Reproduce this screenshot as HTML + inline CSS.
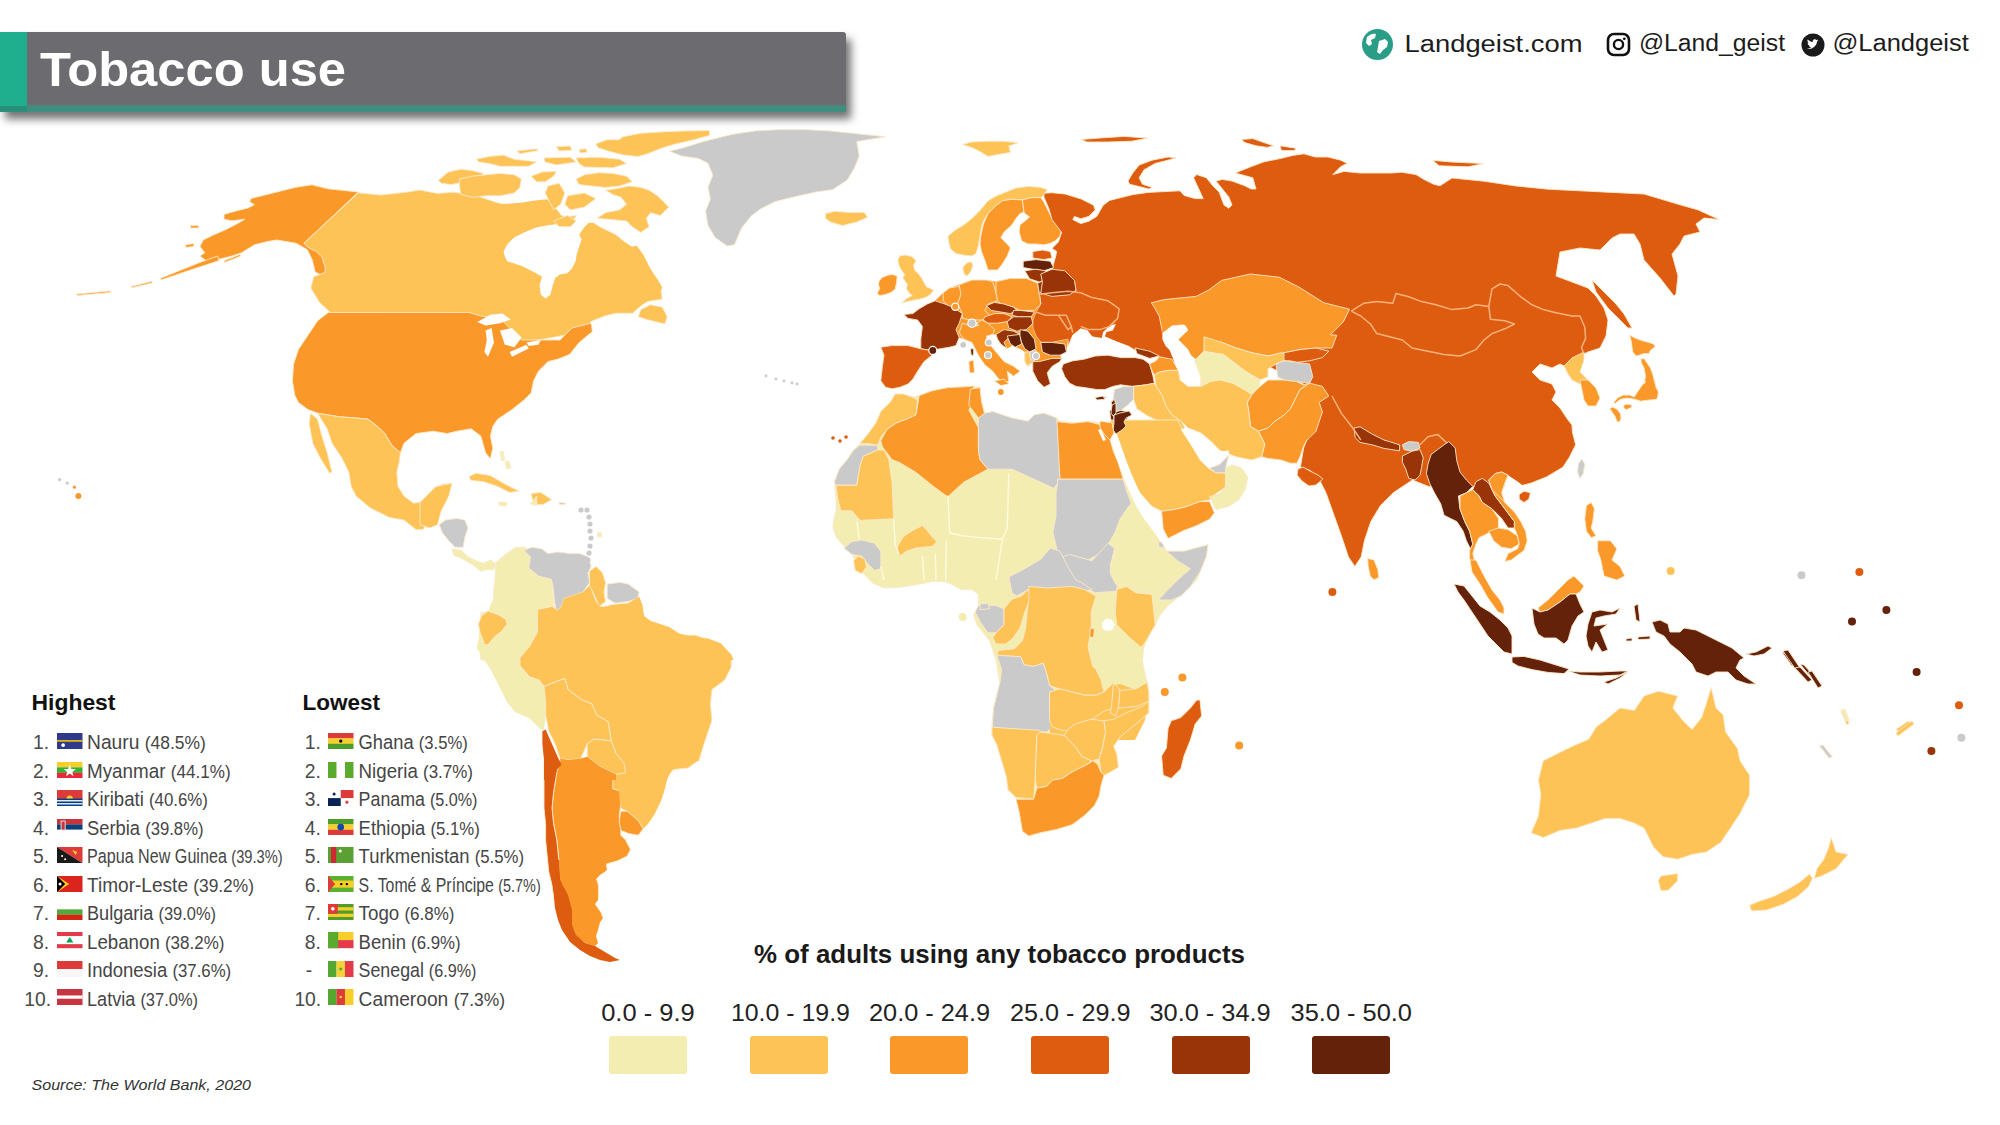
<!DOCTYPE html>
<html><head><meta charset="utf-8">
<style>
html,body{margin:0;padding:0;background:#fff;}
body{width:2000px;height:1125px;position:relative;overflow:hidden;font-family:"Liberation Sans",sans-serif;}
#map{position:absolute;left:0;top:0;}
.P{fill:#f3edb1}.L{fill:#fec357}.O{fill:#fb982a}.D{fill:#dd5c0f}.R{fill:#993408}.B{fill:#65220b}.G{fill:#cacaca}
#map path{stroke:#fce9c9;stroke-width:0.9;stroke-linejoin:round}
#map path.ns{stroke:none}
#map path.W{fill:#fff;stroke:none}
#map .pl{fill:none;stroke:#fffae0;stroke-width:1.4}
#map .bl{fill:none;stroke:#fbb27c;stroke-width:1.5}
.abs{position:absolute;white-space:nowrap;}
#hdr-teal{position:absolute;left:0;top:32px;width:27px;height:80px;background:linear-gradient(#1fae8e 0,#1fae8e 93%,#2a8f7a 93%);}
#hdr-shadow{position:absolute;left:0;top:32px;width:846px;height:80px;box-shadow:5px 7px 8px rgba(0,0,0,0.55);border-top-right-radius:3px;}
#hdr-bar{position:absolute;left:26px;top:32px;width:820px;height:73px;background:#6b6b70;border-top-right-radius:3px;}
#hdr-strip{position:absolute;left:26px;top:103px;width:820px;height:9px;background:linear-gradient(#6e6370 0,#5d7a78 25%,#3e8f7f 45%,#3e8f7f 100%);}
#title{position:absolute;left:40px;top:40px;font-weight:bold;font-size:48px;color:#fff;line-height:56px;letter-spacing:0px;}
.soc{position:absolute;font-size:25px;color:#1e1e1e;line-height:30px;}
.lt{position:absolute;font-weight:bold;font-size:21px;color:#111;line-height:24px;}
.li{position:absolute;font-size:19px;color:#3a3a3a;line-height:22px;}
.li .n{position:absolute;}
.li svg{position:absolute;}
.li .t{position:absolute;}
.li .p{font-size:16.5px;}
#legtitle{position:absolute;left:754px;top:940px;font-weight:bold;font-size:25px;color:#1a1a1a;line-height:28px;}
.lgl{position:absolute;font-size:24px;color:#222;line-height:28px;top:998px;width:160px;text-align:center;}
.lgb{position:absolute;top:1036px;width:78px;height:38px;border-radius:3px;}
#src{position:absolute;left:31px;top:1075px;font-style:italic;font-size:15px;color:#333;line-height:18px;}
</style></head><body>
<svg id="map" width="2000" height="1125" viewBox="0 0 2000 1125">
<path class="O" d="M251.2,198.4 264,195.2 280,191.2 296,187.2 312,184.8 328,188.8 358.4,192 304,243.2 312,246.4 320,251.2 324.8,259.2 326.4,272 321.6,275.2 315.2,272 312,259.2 307.2,249.6 296,243.2 286.4,241.6 276.8,240 267.2,241.6 254.4,244.8 241.6,252.8 232,256 219.2,259.2 208,262.4 200,256 204.8,252.8 200,246.4 203.2,240 212.8,235.2 224,230.4 236.8,224 244.8,219.2 232,220.8 224,219.2 224,214.4 235.2,211.2 248,208 254.4,204.8 249.6,201.6Z"/>
<path class="O" d="M217.6,256 200,262.4 184,268.8 168,275.2 160,278.4 161.6,279.7 176,274.9 192,269.4 208,264.3 219.2,260.5Z"/>
<path class="O" d="M224,260.8 240,254.4 240.8,256 224.8,262.4Z"/>
<path class="O" d="M131.2,286.4 152,281.3 152.3,282.9 131.5,287.7Z"/>
<path class="O" d="M76.8,294.1 110.4,290.9 110.7,292.5 77.1,295.4Z"/>
<path class="O" d="M185.6,244.8 193.6,243.5 193.9,246.4 185.9,247.4Z"/>
<path class="O" d="M190.4,225.6 198.4,225.6 198.7,228 190.7,228Z"/>
<path class="L" d="M358.4,192.8 380.8,195 406,192.2 420,190 436.8,193.4 453.6,192.2 476,195.6 492.8,201.2 509.6,206.8 526.4,204 540.4,206.8 554.4,213.8 565.6,216.6 582.4,215.2 599.2,226.4 616,234.8 632.8,248.8 641.2,265.6 649.6,282.4 660.8,288 662.2,299.2 644,302 632.8,313.2 616,313.2 604.8,316 590.8,321.6 588,332.8 576.8,332.8 562.8,335.6 532,341.2 512.4,352.4 504,335.6 490,332.8 481.6,318.8 470.4,313.2 330.4,312.6 319.2,302 310.8,288 313.6,276.8 324.8,272.6 325.4,268.4 322,257.2 316.4,251.6 308,247.4 303.8,243.2Z"/>
<path class="L ns" d="M420,192 434.4,193.2 451.2,199.2 468,201.6 487.2,202.8 504,204 520.8,202.8 535.2,200.4 547.2,199.2 554.4,206.4 561.6,216 568.8,223.2 578.4,225.6 588,230.4 597.6,232.8 607.2,232.8 619.2,244.8 628.8,240 636,244.8 643.2,254.4 650.4,268.8 660,283.2 662.4,288 655.2,297.6 645.6,302.4 636,309.6 626.4,312 607.2,312 588,316.8 564,312 516,288 420,288Z"/>
<path class="L" d="M640.8,309.6 650.4,304.8 662.4,307.2 667.2,316.8 664.8,324 655.2,321.6 645.6,319.2 638.4,316.8Z"/>
<path class="W" d="M503.6,251.6 507.2,244.4 514.4,237.2 524,232.4 536,227.6 548,225.2 557.6,224 566,222.8 572,220.4 576.8,215.6 584,218 588.8,222.8 584,227.6 579.2,234.8 581.6,239.6 579.2,246.8 576.8,254 575.6,261.2 572,268.4 567.2,273.2 560,274.4 555.2,278 552.8,285.2 550.4,294.8 545.6,298.4 540.8,294.8 539.6,285.2 542,276.8 536,273.2 528.8,269.6 521.6,266 514.4,263.6 507.2,261.2 504.8,256.4Z"/>
<path class="W" d="M576.8,215.6 584,208.4 596,204.8 614,200 626,206 632,215.6 638,225.2 644,232.4 646.4,237.2 641.6,244.4 632,246.8 624.8,242 620,232.4 610.4,226.4 596,222.8 586.4,222.8Z"/>
<path class="L" d="M622.4,136.9 640.7,133.3 661.7,131.9 682.8,131 709.5,130.5 709.5,135.4 694,139.7 675.8,143.9 661.7,148.1 647.7,153.7 637.9,156.5 623.8,155.1 612.6,152.3 598.5,148.1 595.7,143.9 607,139.7 619.6,139.7Z"/>
<path class="L" d="M476.3,159.3 489,156.5 503,155.1 514.3,159.3 528.3,160.7 536.7,162.1 528.3,166.3 514.3,166.3 500.2,166.3 489,163.5 479.2,162.1Z"/>
<path class="L" d="M517.1,150.9 536.7,148.8 538.1,150.6 519.9,153.7Z"/>
<path class="L" d="M556.4,146.7 570.4,146 571.8,150.2 559.2,150.9Z"/>
<path class="L" d="M578.9,149.5 585.9,148.8 587.3,152.3 580.3,153Z"/>
<path class="L" d="M543.8,157.9 570.4,157.2 576.1,162.1 556.4,164.9 545.2,162.1Z"/>
<path class="L" d="M576.1,157.9 598.5,157.2 619.6,159.3 626.6,163.5 612.6,167.8 584.5,167 578.9,163.5Z"/>
<path class="L" d="M438.4,180.4 448.3,172 460.9,169.2 472.1,170.6 483.4,173.4 479.2,179 465.1,181.8 451.1,184.6 441.2,183.2Z"/>
<path class="L" d="M459.5,179 472.1,176.2 486.2,174.8 500.2,173.4 514.3,174.8 521.3,179 519.9,187.4 514.3,193 500.2,195.8 486.2,195.8 472.1,197.2 460.9,194.4 459.5,186Z"/>
<path class="L" d="M531.1,176.2 542.4,172 556.4,171.3 553.6,176.2 545.2,181.8 536.7,181.8Z"/>
<path class="L" d="M548,186 559.2,183.2 564.8,193 560.6,204.3 553.6,209.9 549.4,201.5 545.2,193Z"/>
<path class="L" d="M576.1,179 584.5,174.8 598.5,172.7 612.6,173.4 626.6,176.2 632.2,181.8 619.6,186 605.6,187.4 591.5,186 578.9,184.6Z"/>
<path class="L" d="M605.6,190.2 615.4,188.8 629.4,186 640.7,187.4 649.1,190.2 657.5,195.8 668.8,207.1 660.3,215.5 650.5,212.7 646.3,218.3 649.1,226.7 640.7,232.4 632.2,226.7 626.6,221.1 612.6,219.7 597.1,218.3 605.6,212.7 619.6,209.9 626.6,204.3 621,197.2 612.6,194.4Z"/>
<path class="L" d="M567.6,195.8 584.5,193 595.7,198.6 584.5,207.1 570.4,209.9 564.8,204.3Z"/>
<path class="L" d="M553.6,221.1 567.6,215.5 576.1,221.1 570.4,226.7 559.2,226.7Z"/>
<path class="G" d="M669.6,151.2 684,147.6 703.2,141.6 722.4,136.8 732,134.4 756,130.8 780,129.6 804,129.6 828,130.8 852,133.2 885.6,136.8 856.8,141.6 859.2,156 854.4,168 847.2,180 832.8,189.6 816,192 794.4,196.8 775.2,201.6 760.8,208.8 751.2,216 741.6,228 734.4,244.8 727.2,246 715.2,237.6 708,225.6 705.6,211.2 710.4,199.2 708,187.2 712.8,175.2 708,163.2 698.4,158.4 681.6,156Z"/>
<path class="L" d="M825.6,213.6 835.2,211.2 847.2,212.4 864,212.4 867.6,217.2 856.8,222 842.4,225.6 830.4,222 825.6,218.4Z"/>
<path class="O" d="M328.4,312.4 468.8,312.4 480.8,316 500,318.4 512,330.4 521.6,340 540.8,340 560,340 572,328 591.2,323.2 592.4,331.6 579.2,342.4 569.6,354.4 557.6,359.2 548,361.6 538.4,371.2 533.6,380.8 531.2,392.8 524,400 512,409.6 497.6,419.2 492.8,426.4 490.4,436 492.8,448 490.4,458.8 485.6,452.8 480.8,436 471.2,428.8 456.8,431.2 447.2,433.6 432.8,431.2 416,433.6 404,443.2 400.4,452.8 392,445.6 384.8,433.6 377.6,426.4 368,419.2 356,418 339.2,416.8 317.6,413.2 308,409.6 298.4,402.4 294.8,395.2 292.4,380.8 293.6,364 298.4,349.6 308,335.2 317.6,320.8Z"/>
<path class="W" d="M477.2,322 490.4,314.8 502.4,313.6 510.8,319.6 500,323.2 485.6,325.6Z"/>
<path class="W" d="M485.6,330.4 491.6,328 494,342.4 488,356.8 484.4,352 486.8,340Z"/>
<path class="W" d="M500,330.4 512,328 521.6,337.6 514.4,347.2 504.8,344.8Z"/>
<path class="W" d="M509.6,352 526.4,344.8 528.8,348.4 512,356.8Z"/>
<path class="W" d="M526.4,342.4 540.8,340 538.4,344.8 528.8,346Z"/>
<path class="L" d="M317.6,413.2 339.2,416.8 356,418 368,419.2 377.6,426.4 384.8,433.6 392,445.6 400.4,452.8 399.2,462.4 396.8,472 398,486.4 404,496 413.6,503.2 428,500.8 435.2,491.2 442.4,484 452,484 447.2,496 442.4,505.6 435.2,510.4 428,520 423.2,529.6 416,529.6 404,520 389.6,517.6 370.4,508 356,496 351.2,486.4 348.8,472 341.6,457.6 332,443.2 327.2,428.8Z"/>
<path class="L" d="M310.4,413.2 317.6,419.2 321.2,433.6 327.2,452.8 332,472 329.6,473.2 320,457.6 312.8,443.2 309.2,424Z"/>
<path class="L" d="M468.8,476.8 476,473.2 490.4,475.6 504.8,484 519.2,491.2 509.6,492.4 497.6,486.4 483.2,481.6 471.2,480.4Z"/>
<path class="L" d="M531.2,493.6 540.8,492.4 551.6,499.6 543.2,504.4 533.6,504.4Z"/>
<path class="P" d="M498.8,502 507.2,502.7 506,506.1 499.5,505.6Z"/>
<path class="L" d="M962.4,144.4 972,142 988,141.2 1004,141.2 1018.4,142.8 1008.8,146 1010.4,152.4 1000.8,154 988,156.4 981.6,152.4 972,147.6Z"/>
<path class="L" d="M948,236 956,229.6 964,224.8 972,218.4 980,210.4 988,200.8 996,196 1004,192.8 1016,188 1028,186.4 1040,187.2 1047.2,189.6 1044,195.2 1040.8,197.6 1032,197.6 1028,198.4 1022.4,200 1012,199.2 1002.4,200.8 996,205.6 988,213.6 983.2,221.6 981.6,226.4 980,236 978.4,245.6 976,253.6 972,256 964,255.2 956,253.6 950.4,248.8 948.8,242.4Z"/>
<path class="O" d="M983.2,224.8 988,213.6 996,205.6 1002.4,200.8 1012,199.2 1022.4,200 1024,212 1020,213.6 1016,218.4 1012,224.8 1004,232 1000.8,237.6 1007.2,244 1010.4,248 1007.2,256 1002.4,264 997.6,270 988,270 984.8,260 981.6,252 980,244 980.8,236Z"/>
<path class="O" d="M1022.4,200 1028,198.4 1032,197.6 1040.8,197.6 1044,202.4 1048,210.4 1052,218.4 1058.4,226.4 1061.6,229.6 1060,236 1055.2,240.8 1050.4,243.2 1044,244.8 1036,244 1028,244 1021.6,240.8 1019.2,232 1020,224.8 1026.4,220 1029.6,216.8 1024.8,213.6 1024,212Z"/>
<path class="L" d="M963.1,267.2 966.7,263 971.5,261.8 972.8,265.4 971.5,270.2 969.1,273.8 966.7,276.3 964.3,273.8 963.1,270.2Z"/>
<path class="D" d="M1044,193.2 1052,192.7 1064.8,194 1080.8,198.8 1093.6,205.2 1095.2,210 1088.8,216.4 1080.8,218.8 1074.4,216.4 1072.8,219.6 1080.8,223.6 1088.8,221.2 1096.8,216.4 1103.2,205.2 1109.6,200.4 1122.4,197.2 1132,194.8 1148,192.4 1164,191.6 1180,190.8 1184,195.4 1195.2,198.6 1203.2,198.6 1193.6,177.8 1196.8,174.6 1206.4,177.8 1212.8,185.8 1219.2,192.2 1224,205 1228.8,208.2 1232,205 1228.8,197 1222.4,189 1216,181 1222.4,179.4 1232,181 1244.8,185.8 1251.2,189 1256,189 1252.8,177.8 1235.2,173 1251.2,166.6 1264,161.8 1280,158.6 1292.8,155.4 1304,153.8 1315.2,157 1328,157 1340.8,160.2 1347.2,163.4 1340.8,166.6 1332.8,174.6 1344,171.4 1360,173 1376,173 1392,173 1401.6,172.2 1416,174.6 1424,179.4 1433.6,184.2 1440,185.8 1452,178 1484,181.2 1516,186 1548,189.2 1580,190.8 1612,192.4 1644,194 1676,203.6 1698.4,210 1719.2,219.6 1704,218 1696,224 1700,232 1684,236 1680,244 1672,254 1678,276 1676,294 1674,296 1660,278 1644,260 1640,244 1634,234 1620,234 1612,238 1600,250 1580,248 1560,252 1556,276 1572,282 1588,288 1596,296 1604,308 1608,320 1606,336 1600,348 1588,352 1580,356 1572,358 1564,366 1560,364 1552,368 1540,364 1532,372 1540,380 1552,384 1556,392 1552,400 1560,408 1568,420 1572,425 1572.4,432 1575.6,444.8 1569.2,457.6 1562.8,467.2 1546.8,476.8 1530.8,483.2 1518,486.4 1508.4,486.4 1470,486.4 1438,486.4 1428.4,486.4 1412.4,480 1393.2,492.8 1380.4,505.6 1370.8,521.6 1364.4,540.8 1361.2,556.8 1354.8,566.4 1348.4,556.8 1342,537.6 1334,515.2 1326,492.8 1319.6,480 1310,470.4 1300.4,467.2 1303.6,448 1316.4,416 1303.6,384 1271.6,368 1214,358.4 1182,352 1200.8,372 1181.6,368.8 1172,360.8 1156,356 1136.8,351.2 1128.8,346.4 1116,341.6 1104.8,336.8 1101.6,338.4 1092,336.8 1087.2,330.4 1080.8,328.8 1072.8,335.2 1068,346.4 1068,339.2 1052,342.4 1040.8,342.4 1036,336 1032.8,328 1032.8,320 1036,312 1040.8,304 1039.2,292.8 1037.6,283.2 1052,269.2 1055.2,258 1056.8,251.6 1052,248.4 1058.4,242 1061.6,232.4 1052,219.6 1048.8,208.4 1044,197.2Z"/>
<path class="O ns" d="M880.8,347.2 892,345.6 908,345.6 920.8,348.8 920.8,339.2 922.4,326.4 917.6,320 908,318.4 904,314.4 912.8,313.6 919.2,308.8 927.2,304 935.2,300.8 943.2,292.8 949.6,288 959.2,284.8 972,280 986.4,280 996,281.6 1010.4,278.4 1026.4,278.4 1037.6,283.2 1039.2,292.8 1040.8,304 1036,312 1032.8,320 1032.8,328 1036,336 1040.8,342.4 1052,342.4 1068,339.2 1066.4,352 1060,355.2 1061.6,358.4 1052,366.4 1047.2,372.8 1050.4,384 1044,387.2 1037.6,380.8 1032.8,371.2 1032.8,361.6 1028,366.4 1024.8,361.6 1024.8,352 1020,348.8 1012,345.6 1007.2,348.8 1000.8,344 997.6,339.2 996,334.4 992.8,334.4 986.4,336 988,342.4 996,352 1004,361.6 1013.6,366.4 1020,371.2 1013.6,376 1007.2,371.2 1008.8,380.8 1004,384 997.6,377.6 992.8,371.2 984.8,364.8 978.4,355.2 972,342.4 964,339.2 959.2,337.6 956,345.6 949.6,347.2 940,348.8 930.4,350.4 932,355.2 924,361.6 917.6,371.2 912.8,379.2 908,384 900,387.2 892,388.8 885.6,387.2 880.8,380.8 882.4,366.4 884,355.2Z"/>
<path class="O" d="M879.1,281.1 882.1,277.5 888.1,275.1 893,274.5 897.2,276.3 896.6,282.3 895.4,288.4 891.8,292 885.7,294.4 879.7,295.6 877.3,293.2 879.7,288.4 878.5,284.7Z"/>
<path class="L" d="M900.2,255.7 906.3,255.1 912.3,256.9 915.9,260.6 913.5,265.4 914.7,270.2 918.4,273.8 922,278.7 924.4,283.5 926.8,287.1 930.4,288.4 933.5,290.2 930.4,294.4 925.6,297.4 919.6,299.2 912.3,300.4 906.3,301.7 901.4,302.9 907.5,298 912.3,295.6 909.3,293.2 906.3,288.4 907.5,284.7 905.1,281.1 902.6,277.5 905.1,275.1 901.4,270.2 899,265.4 897.8,259.9Z"/>
<path class="O" d="M943.2,292.8 949.6,288 959.2,286.4 962.4,294.4 959.2,304 949.6,307.2 943.2,300.8Z"/>
<path class="O" d="M959.2,284.8 972,280 986.4,280 992.8,281.6 996,292.8 997.6,300.8 988,304 984.8,310.4 991.2,316.8 983.2,320 972,320 962.4,318.4 962.4,313.6 957.6,304 960.8,294.4Z"/>
<path class="O" d="M996,281.6 1010.4,278.4 1026.4,278.4 1037.6,283.2 1039.2,292.8 1040.8,304 1034.4,310.4 1020,310.4 1013.6,307.2 1000.8,304 997.6,300.8 996,292.8Z"/>
<path class="R" d="M1037.6,283.2 1052,276.8 1064.8,276.8 1074.4,281.6 1076,291.2 1068,292.8 1052,292.8 1039.2,292.8Z"/>
<path class="R" d="M986.4,305.6 994.4,302.4 1004,304 1013.6,307.2 1016.8,310.4 1010.4,313.6 1000.8,312 991.2,310.4Z"/>
<path class="R" d="M1013.6,310.4 1020,310.4 1034.4,312 1031.2,316.8 1018.4,316.8 1012,315.2Z"/>
<path class="D" d="M984.8,316.8 994.4,313.6 1004,313.6 1012,316.8 1007.2,321.6 997.6,323.2 988,323.2 983.2,320Z"/>
<path class="R" d="M1007.2,321.6 1013.6,316.8 1031.2,316.8 1032.8,323.2 1026.4,329.6 1016.8,331.2 1008.8,328Z"/>
<path class="R" d="M904,314.4 912.8,313.6 919.2,308.8 927.2,304 935.2,300.8 944.8,304 952.8,307.2 962.4,313.6 959.2,323.2 956,329.6 959.2,337.6 956,345.6 949.6,347.2 940,348.8 930.4,350.4 920.8,348.8 920.8,339.2 922.4,326.4 917.6,320 908,318.4Z"/>
<path class="D" d="M880.8,347.2 892,345.6 908,345.6 920.8,348.8 930.4,350.4 932,355.2 924,361.6 917.6,371.2 912.8,379.2 908,384 900,387.2 892,388.8 885.6,387.2 880.8,380.8 882.4,366.4 884,355.2Z"/>
<path class="O" d="M962.4,323.2 972,326.4 981.6,320 988,323.2 994.4,329.6 992.8,334.4 986.4,336 988,342.4 996,352 1004,361.6 1013.6,366.4 1020,371.2 1013.6,376 1007.2,371.2 1008.8,380.8 1004,384 997.6,377.6 992.8,371.2 984.8,364.8 978.4,355.2 972,342.4 964,339.2 959.2,332.8Z"/>
<path class="O" d="M994.4,380.8 1004,379.2 1008.8,384 1000.8,385.6Z"/>
<path class="O" d="M968.8,361.6 973.6,360 974.4,372.8 969.6,372.8Z"/>
<path class="B" d="M970.4,348.8 973.6,348.8 973.6,355.2 971.2,355.2Z"/>
<path class="R" d="M996,334.4 1004,329.6 1013.6,331.2 1020,334.4 1016.8,339.2 1008.8,337.6 1004,342.4 1007.2,348.8 1000.8,344 997.6,339.2Z"/>
<path class="B" d="M1007.2,336 1020,334.4 1021.6,344 1015.2,347.2 1010.4,344Z"/>
<path class="B" d="M1020,329.6 1028,331.2 1034.4,339.2 1036,348.8 1029.6,352 1024.8,348.8 1021.6,342.4 1020,336Z"/>
<path class="L" d="M1024.8,352 1029.6,352 1031.2,361.6 1028,366.4 1024.8,361.6Z"/>
<path class="G" d="M1029.6,352 1036,350.4 1039.2,356.8 1032.8,361.6 1030.4,358.4Z"/>
<path class="B" d="M1040.8,342.4 1052,342.4 1064.8,344 1066.4,352 1060,355.2 1050.4,355.2 1042.4,352Z"/>
<path class="R" d="M1032.8,361.6 1039.2,361.6 1052,358.4 1061.6,358.4 1060,361.6 1052,366.4 1047.2,372.8 1050.4,384 1044,387.2 1037.6,380.8 1032.8,371.2Z"/>
<path class="G" d="M972,323.2 976.8,322.4 978.4,325.6 972.8,326.4Z"/>
<path class="B" d="M1096.8,398.4 1106.4,396.8 1103.2,400Z"/>
<path class="W" d="M1068,348 1072.8,335.2 1080.8,328.8 1087.2,330.4 1092,336.8 1101.6,338.4 1103.2,332 1109.6,325.6 1116,324 1112.8,330.4 1106.4,332 1104.8,336.8 1116,341.6 1128.8,346.4 1136.8,352.8 1133.6,357.6 1124,359.2 1112.8,357.6 1101.6,356 1092,356 1084,359.2 1076,359.2 1069.6,356Z"/>
<path class="R" d="M1063.2,364 1072.8,360.8 1084,359.2 1095.2,356 1108,355.2 1120.8,357.6 1135.2,357.6 1143.2,359.2 1149.6,364 1152.8,375.2 1154.4,383.2 1146.4,384.8 1132,386.4 1120.8,384.8 1112.8,386.4 1104.8,389.6 1096.8,389.6 1087.2,388 1076,386.4 1069.6,383.2 1064.8,376.8 1061.6,368.8Z"/>
<path class="R" d="M1135.2,348 1149.6,351.2 1159.2,356 1149.6,358.4 1136.8,353.6Z"/>
<path class="O" d="M1149.6,364 1156,360.8 1159.2,356.8 1172,359.2 1178.4,370.4 1168.8,370.4 1159.2,372 1154.4,375.2 1151.2,368.8Z"/>
<path class="W" d="M1162.4,332 1172,325.6 1184.8,324.8 1188,330.4 1181.6,335.2 1175.2,341.6 1181.6,348 1188,354.4 1194.4,360.8 1200.8,367.2 1200.8,376.8 1197.6,386.4 1188,386.4 1180,380 1178.4,370.4 1175.2,364 1172,356 1168.8,348 1164,340Z"/>
<path class="O" d="M1151.2,302.8 1164,299.6 1196,296.4 1208.8,290 1221.6,280.4 1250.4,274 1279.2,277.2 1298.4,286.8 1324,302.8 1349.6,309.2 1343.2,322 1330.4,334.8 1336.8,335.2 1332,348 1316,348 1300,349.6 1284,352.8 1268,356 1252,352.8 1236,348 1220,341.6 1220,332 1204,336.8 1204,351.2 1194.4,360.8 1188,354.4 1181.6,348 1175.2,341.6 1181.6,335.2 1188,330.4 1184.8,324.8 1172,325.6 1162.4,332 1159.2,316 1152.8,304.8Z"/>
<path class="O ns" d="M1162.4,333.2 1172,325.2 1181.6,323.6 1188,326.8 1188,339.6 1191.2,346 1197.6,352.4 1204,349.2 1204,337.2 1220,340.4 1228,343.6 1228,322 1204,317.2 1188,317.2 1172,320.4 1162.4,325.2Z"/>
<path class="W" d="M1162.4,333.2 1172,326.8 1184.8,325.2 1188,330 1181.6,336.4 1178.4,339.6 1188,349.2 1191.2,355.6 1199.2,362 1200.8,371.6 1200.8,386 1191.2,387.6 1181.6,381.2 1178.4,371.6 1178.4,362 1172,352.4 1165.6,346 1162.4,339.6Z"/>
<path class="L" d="M1204,336.8 1220,341.6 1236,348 1252,352.8 1268,356 1280.8,352.8 1290.4,354.4 1284,360.8 1276,364 1268,368.8 1268,376.8 1260,380 1252,375.2 1244,370.4 1236,364 1223.2,354.4 1212,352.8 1204,351.2Z"/>
<path class="P" d="M1194.4,360.8 1204,351.2 1212,352.8 1223.2,354.4 1236,364 1244,370.4 1252,375.2 1260,380 1258.4,389.6 1252,394.4 1244,389.6 1232.8,383.2 1220,380 1210.4,381.6 1200.8,386.4 1200.8,376.8Z"/>
<path class="D" d="M1284,352.8 1300,349.6 1316,348 1328.8,351.2 1322.4,357.6 1309.6,360.8 1296.8,362.4 1290.4,360.8 1284,360.8Z"/>
<path class="G" d="M1276,364 1284,360.8 1296.8,362.4 1309.6,364 1312.8,376.8 1309.6,383.2 1296.8,381.6 1284,380 1277.6,376.8Z"/>
<path class="O" d="M1252,394.4 1260,386.4 1268,380 1277.6,380 1284,380 1296.8,381.6 1303.2,384.8 1309.6,383.2 1300,389.6 1295.2,399.2 1290.4,408.8 1284,415.2 1274.4,421.6 1268,428 1258.4,431.2 1250.4,426.4 1248.8,412 1247.2,402.4Z"/>
<path class="O" d="M1309.6,383.2 1322.4,386.4 1328.8,396 1319.2,402.4 1322.4,412 1319.2,421.6 1316,431.2 1306.4,440.8 1303.2,447.2 1300,456.8 1296.8,463.2 1290.4,463.2 1280.8,460 1268,458.4 1261.6,456.8 1264.8,444 1258.4,431.2 1268,428 1274.4,421.6 1284,415.2 1290.4,408.8 1295.2,399.2 1300,389.6Z"/>
<path class="R" d="M1354,428 1360,426.8 1372,434 1384,440 1399.6,444.8 1399.6,450.8 1384,448.4 1372,444.8 1360,442.4 1355.2,437.6Z"/>
<path class="L" d="M1154.4,375.2 1159.2,372 1168.8,370.4 1178.4,370.4 1180,380 1188,386.4 1197.6,386.4 1200.8,386.4 1210.4,381.6 1220,380 1232.8,383.2 1244,389.6 1252,394.4 1247.2,402.4 1248.8,412 1250.4,426.4 1258.4,431.2 1264.8,444 1261.6,456.8 1252,460 1236,456.8 1220,450.4 1210.4,440.8 1200.8,432.8 1188,428 1181.6,421.6 1172,415.2 1165.6,405.6 1162.4,396 1156,386.4Z"/>
<path class="L" d="M1133.6,386.4 1146.4,384.8 1154.4,383.2 1156,386.4 1162.4,396 1165.6,405.6 1172,415.2 1181.6,421.6 1184.8,428 1178.4,431.2 1172,428 1159.2,421.6 1146.4,415.2 1136.8,408.8 1133.6,399.2Z"/>
<path class="G" d="M1114.4,389.6 1124,386.4 1133.6,386.4 1133.6,399.2 1127.2,405.6 1120.8,410.4 1114.4,412 1112.8,402.4Z"/>
<path class="B" d="M1111.2,402.4 1114.4,399.2 1116,405.6 1112.8,408.8Z"/>
<path class="B" d="M1114.4,412 1120.8,410.4 1130.4,412 1127.2,418.4 1124,421.6 1125.6,428 1116,432.8 1112.8,428Z"/>
<path class="B" d="M1109.6,410.4 1112.8,409.6 1114.4,421.6 1111.2,423.2Z"/>
<path class="B" d="M1095.2,397.6 1103.2,396 1104.8,399.2 1096.8,400Z"/>
<path class="L" d="M1110.4,420 1115.2,442.4 1120,458.4 1129.6,474.4 1139.2,492 1152,506.4 1161.6,511.2 1174.4,509.6 1187.2,506.4 1200,501.6 1209.6,500 1216,493.6 1225.6,487.2 1225.6,472.8 1216,472.8 1208,468 1200,460 1193.6,448.8 1184,432.8 1177.6,420Z"/>
<path class="W" d="M1180.8,429.6 1187.2,428 1196.8,436 1206.4,445.6 1216,452 1228.8,450.4 1228.8,458.4 1224,466.4 1216,468 1209.6,464.8 1201.6,460 1193.6,448.8 1187.2,439.2Z"/>
<path class="G" d="M1209.6,468 1219.2,464.8 1225.6,458.4 1228.8,455.2 1225.6,468 1225.6,472.8 1216,472.8Z"/>
<path class="P" d="M1216,509.6 1209.6,496.8 1219.2,493.6 1225.6,487.2 1225.6,468 1232,464.8 1241.6,468 1248,477.6 1244.8,490.4 1238.4,500 1228.8,506.4Z"/>
<path class="O" d="M1161.6,511.2 1174.4,509.6 1187.2,506.4 1200,501.6 1209.6,501.6 1214.4,512.8 1209.6,519.2 1196.8,525.6 1184,530.4 1168,538.4 1163.2,528.8Z"/>
<path class="O" d="M1059.2,421.6 1072,423.2 1088,421.6 1100.8,424.8 1108.8,429.6 1110.4,440.8 1113.6,452 1118.4,463.2 1123.2,479.2 1062.4,479.2 1062.4,452Z"/>
<circle class="O" cx="955.2" cy="306.8" r="3.6" style="stroke:#fff;stroke-width:1.2"/>
<circle class="G" cx="972" cy="323.2" r="4.2" style="stroke:#fff;stroke-width:1.2"/>
<circle class="B" cx="932.8" cy="350.4" r="4" style="stroke:#fff;stroke-width:1.2"/>
<circle class="G" cx="963.2" cy="344.8" r="3.5" style="stroke:#fff;stroke-width:1.2"/>
<circle class="G" cx="988.8" cy="342.4" r="3.5" style="stroke:#fff;stroke-width:1.2"/>
<circle class="G" cx="988" cy="355.2" r="3.5" style="stroke:#fff;stroke-width:1.2"/>
<circle class="G" cx="1036" cy="356" r="3.5" style="stroke:#fff;stroke-width:1.2"/>
<circle class="O" cx="1000.8" cy="392" r="3.5" style="stroke:#fff;stroke-width:1.2"/>
<path class="D" d="M1032.8,251.6 1042.4,250 1050.4,251.6 1052,258 1044,259.6 1032.8,258Z"/>
<path class="B" d="M1023.2,261.2 1036,259.6 1050.4,261.2 1053.6,267.6 1044,270.8 1032.8,269.2 1023.2,267.6Z"/>
<path class="R" d="M1024.8,270.8 1036,269.2 1045.6,270.8 1047.2,278.8 1039.2,282 1029.6,278.8Z"/>
<path class="R" d="M1040.8,274 1052,269.2 1064.8,270.8 1074.4,280.4 1076,290 1069.6,294.8 1052,296.4 1040.8,293.2 1042.4,282Z"/>
<path class="D" d="M1128,181 1132.8,173 1139.2,165 1152,160.2 1168,157 1176,157.8 1168,160.2 1155.2,163.4 1144,169.8 1139.2,177.8 1142.4,184.2 1152,187.4 1148.8,189 1136,185.8 1129.6,184.2Z"/>
<path class="D" d="M1241.6,139.4 1252.8,138.6 1264,142.6 1273.6,145.8 1267.2,147.4 1256,145.8 1244.8,142.6Z"/>
<path class="D" d="M1280,145.8 1296,148.2 1294.4,150.6 1281.6,150.6Z"/>
<path class="D" d="M1432.8,160.4 1452,162 1484,163.6 1468,166.8 1439.2,165.8Z"/>
<path class="D" d="M1080.8,139.6 1100,138 1124,136.4 1148,138 1132,141.2 1108,142 1087.2,142Z"/>
<path class="P" d="M895.2,394 890.4,402 880.8,411.6 876,422.8 868,434 860,443.6 853.6,450 847.2,459.6 839.2,469.2 834.4,482 836,498 836,511.2 834.4,516 832.8,527.2 836,536.8 842.4,544.8 852,554.4 856.8,564 863.2,573.6 872.8,583.2 884,588 900,587.2 916,584.8 932,581.6 944.8,581.6 952.8,584.8 960.8,589.6 972,589.6 978.4,594.4 978.4,605.6 973.6,615.2 976.8,624.8 983.2,632.8 989.6,640.8 992.8,650.4 996,660 999.2,680 1000,682.4 996.8,695.2 993.6,708 992,724 992,732 992,735.2 996.8,744.8 1001.6,760.8 1006.4,776.8 1008,789.6 1016,797.6 1019.2,812 1020.8,821.6 1022.4,831.2 1028.8,836 1040,832.8 1056,829.6 1072,824.8 1084.8,815.2 1094.4,805.6 1099.2,796 1100.8,786.4 1104,775.2 1110.4,772 1118.4,767.2 1116.8,754.4 1113.6,746.4 1120,736.8 1136,724 1148.8,712.8 1148.8,700 1148.8,692 1147.2,682.4 1144,669.6 1142.4,660 1144,647.2 1148.8,636 1155.2,624.8 1160,615.2 1168,605.6 1184,592.8 1196.8,580 1200,572 1206.4,556 1208,544.8 1184,551.2 1166.4,551.2 1161.6,541.6 1152,522.4 1144,509.6 1136,493.6 1129.6,477.6 1123.2,461.6 1116.8,444 1110.4,429.6 1108.8,421.6 1104.8,424.4 1092,421.2 1076,422.8 1060,421.2 1056.8,418 1044,413.2 1034.4,414.8 1028,421.2 1012,418 992.8,411.6 984.8,413.2 981.6,402 980,387.6 973.6,386 964,386.8 948,387.6 932,390.8 919.2,395.6 912.8,397.2 903.2,394Z"/>
<path class="O" d="M1056,421.6 1072,423.2 1088,421.6 1100.8,424.8 1108.8,429.6 1110.4,440.8 1113.6,452 1118.4,463.2 1123.2,479.2 1057.6,479.2 1057.6,452Z"/>
<path class="L" d="M860,443.6 868,434 876,422.8 880.8,411.6 890.4,402 895.2,394 903.2,394 912.8,397.2 917.6,400.4 916,414.8 909.6,418 896.8,422.8 887.2,429.2 880.8,437.2 877.6,445.2 868,443.6Z"/>
<path class="G" d="M834.4,482 839.2,469.2 847.2,459.6 853.6,450 860,445.2 877.6,445.2 877.6,450 863.2,456.4 860,466 856.8,485.2 836,485.2Z"/>
<path class="L" d="M836,485.2 856.8,485.2 860,466 863.2,456.4 877.6,450 884,450 888.8,459.6 892,482 893.6,518.8 860,520.4 852,510.8 840.8,510.8 837.6,498Z"/>
<path class="O" d="M880.8,440.4 887.2,429.2 896.8,422.8 909.6,418 916,414.8 919.2,395.6 932,390.8 948,387.6 964,386.8 973.6,386 973.6,402 968.8,410 978.4,427.6 978.4,450 980,459.6 988,469.2 964,482 948,496.4 944.8,494.8 932,485.2 916,472.4 900,462.8 892,459.6 882.4,446.8Z"/>
<path class="O" d="M970.4,389.2 980,387.6 981.6,402 984.8,414.8 978.4,418 973.6,411.6 968.8,405.2Z"/>
<path class="G" d="M978.4,418 984.8,413.2 992.8,411.6 1012,418 1028,421.2 1034.4,414.8 1044,413.2 1056.8,418 1060,480.4 1053.6,488.4 1047.2,485.2 1012,469.2 988,469.2 980,459.6 978.4,450 978.4,427.6Z"/>
<path class="G" d="M1057.6,479.2 1123.2,479.2 1126.4,490.4 1131.2,503.2 1126.4,509.6 1120,519.2 1115.2,532 1108.8,543.2 1104,551.2 1088,560 1072,560.8 1059.2,559.2 1052.8,532 1056,516 1056,492 1057.6,484Z"/>
<path class="G" d="M1056.8,559.2 1069.6,554.4 1092,560.8 1108,543.2 1114.4,548 1111.2,564 1111.2,568.8 1119.2,581.6 1116,591.2 1095.2,592.8 1076,583.2 1066.4,573.6Z"/>
<path class="P" d="M1110.4,564 1116.8,548 1126.4,535.2 1136,525.6 1142.4,535.2 1152,541.6 1161.6,541.6 1166.4,551.2 1177.6,560.8 1190.4,568.8 1184,575.2 1171.2,580 1161.6,586.4 1152,589.6 1136,592.8 1120,589.6 1115.2,583.2 1110.4,573.6Z"/>
<path class="G" d="M1166.4,551.2 1184,551.2 1208,544.8 1206.4,556 1200,572 1190.4,586.4 1180.8,596 1171.2,600 1158.4,600 1168,589.6 1177.6,580 1190.4,568.8 1177.6,560.8Z"/>
<path class="G" d="M1158.4,541.6 1164.8,543.2 1163.2,548 1159.2,547.2Z"/>
<path class="G" d="M844,548 852,541.6 861.6,540 874.4,543.2 880.8,551.2 880.8,568.8 874.4,570.4 868,564 861.6,556 852,554.4Z"/>
<path class="L" d="M853.6,560.8 858.4,556 864.8,559.2 866.4,567.2 861.6,573.6 855.2,570.4Z"/>
<path class="L" d="M896.8,548 903.2,536.8 912.8,530.4 922.4,525.6 927.2,530.4 932,536.8 936.8,541.6 932,546.4 916,548 906.4,551.2 900,556Z"/>
<path class="G" d="M1008.8,576.8 1021.6,570.4 1040.8,559.2 1050.4,548 1060,551.2 1068,567.2 1076,580 1082.4,583.2 1092,589.6 1076,592.8 1060,589.6 1044,589.6 1028,589.6 1016.8,596 1012,592.8Z"/>
<path class="G" d="M978.4,605.6 996,605.6 1004,608.8 1004,624.8 996,632.8 988,632.8 980,621.6 975.2,612Z"/>
<path class="G" d="M980,604 988,603.2 989.6,608.8 980,609.6Z"/>
<path class="L" d="M1004,608.8 1012,599.2 1021.6,596 1028,589.6 1031.2,596 1024.8,612 1020,628 1012,639.2 1005.6,644 996,644 992.8,637.6 996,632.8 1004,624.8Z"/>
<path class="L" d="M1028.8,586.4 1048,588 1072,586.4 1084.8,589.6 1096,596 1091.2,612 1091.2,628 1088,647.2 1092.8,666.4 1096,669.6 1100.8,679.2 1104,692 1096,695.2 1084.8,695.2 1072,692 1059.2,688.8 1049.6,685.6 1046.4,672.8 1043.2,663.2 1033.6,666.4 1024,664.8 1020.8,656.8 996.8,655.2 998.4,650.4 1014.4,648.8 1022.4,640.8 1025.6,628 1027.2,612 1028.8,599.2Z"/>
<path class="L" d="M1116.8,589.6 1126.4,586.4 1136,592.8 1152,594.4 1155.2,624.8 1148.8,636 1144,644 1140.8,647.2 1129.6,637.6 1116.8,624.8 1115.2,612Z"/>
<path class="G" d="M996.8,655.2 1020.8,656.8 1024,664.8 1033.6,666.4 1043.2,663.2 1046.4,672.8 1049.6,685.6 1056,690.4 1049.6,695.2 1049.6,708 1051.2,728.8 1046.4,732 1024,731.2 1008,730.4 992,730.4 993.6,708 996.8,695.2 1000,682.4 1001.6,669.6Z"/>
<path class="L ns" d="M1050,718 1100,700 1112,686 1120,684 1136,690 1148,683 1148,700 1145,720 1135,740 1050,740Z"/>
<path class="L" d="M1049.6,692 1059.2,688.8 1072,692 1084.8,695.2 1096,695.2 1104,692 1113.6,682.4 1116.8,695.2 1113.6,708 1104,711.2 1094.4,717.6 1084.8,724 1072,730.4 1062.4,730.4 1052.8,727.2 1049.6,720.8 1049.6,708Z"/>
<path class="L" d="M1113.6,682.4 1120,690.4 1118.4,708 1115.2,716 1110.4,712.8 1112,701.6Z"/>
<path class="O" d="M1090.4,628 1094.4,628.8 1093.6,637.6 1089.6,636.8Z"/>
<path class="W" d="M1102.4,621.9 1106.4,618.4 1112,619.7 1114.9,624.8 1112.3,629.9 1105.9,630.9 1101.8,627.4Z"/>
<path class="L" d="M992,727.2 1040,730.4 1043.2,733.6 1036.8,735.2 1035.2,780 1033.6,799.2 1016,797.6 1008,789.6 1006.4,776.8 1001.6,760.8 996.8,744.8 992,735.2Z"/>
<path class="L" d="M1040,732 1064,735.2 1075.2,746.4 1081.6,756 1091.2,760.8 1088,764 1072,772 1062.4,778.4 1052.8,780 1046.4,786.4 1036.8,788 1035.2,780 1036.8,735.2Z"/>
<path class="L" d="M1075.2,724 1091.2,719.2 1104,720.8 1105.6,732 1102.4,748 1099.2,759.2 1091.2,760.8 1081.6,756 1075.2,746.4 1064,735.2 1068.8,728.8Z"/>
<path class="L" d="M1104,720.8 1113.6,719.2 1126.4,712.8 1142.4,706.4 1148.8,700 1148.8,712.8 1136,724 1120,736.8 1113.6,746.4 1116.8,754.4 1118.4,767.2 1110.4,772 1104,775.2 1100.8,772 1099.2,759.2 1102.4,748 1105.6,732Z"/>
<path class="L" d="M1120,690.4 1136,688.8 1147.2,682.4 1148.8,692 1148.8,701.6 1136,706.4 1120,708 1118.4,708Z"/>
<path class="O" d="M1016,799.2 1033.6,799.2 1036.8,788 1046.4,786.4 1052.8,780 1062.4,778.4 1072,772 1088,764 1092.8,760.8 1097.6,764 1100.8,772 1104,775.2 1100.8,786.4 1099.2,796 1094.4,805.6 1084.8,815.2 1072,824.8 1056,829.6 1040,832.8 1028.8,836 1022.4,831.2 1020.8,821.6 1019.2,812Z"/>
<path class="D" d="M1196.8,700 1200,700 1201.6,716 1195.2,724 1190.4,740 1184,756 1180.8,768.8 1171.2,778.4 1163.2,775.2 1161.6,756 1166.4,748 1168,728.8 1171.2,720.8 1180.8,717.6 1190.4,708Z"/>
<path class="L" d="M420,502.4 429.6,492.8 436,486.4 452,483.2 448.8,496 440.8,512 437.6,524.8 429.6,528 420,524.8Z"/>
<path class="G" d="M439.2,524.8 445.6,520 456.8,518.4 464.8,520 468,528 464.8,537.6 463.2,547.2 455.2,547.2 448.8,540.8 442.4,532.8Z"/>
<path class="P" d="M452,548.8 461.6,550.4 468,556.8 477.6,561.6 484,563.2 490.4,560 495.2,563.2 493.6,569.6 487.2,569.6 480.8,571.2 472.8,564.8 461.6,558.4 453.6,555.2Z"/>
<path class="P" d="M495.2,563.2 506.4,553.6 516,547.2 525.6,547.2 530.4,556.8 528.8,568 538.4,576 551.2,579.2 552.8,592 554.4,608 541.6,611.2 541.6,624 535.2,640 528.8,649.6 522.4,660 480.8,660 479.2,632 480.8,624 480.8,612.8 488.8,611.2 493.6,608 493.6,592 495.2,576Z"/>
<path class="P ns" d="M492.8,600 552,600 539.2,609.6 537.6,632 529.6,646.4 520,657.6 520,665.6 529.6,676.8 539.2,680 544,686.4 545.6,702.4 545.6,715.2 544,729.6 540.8,729.6 529.6,718.4 515.2,712 507.2,702.4 500.8,689.6 491.2,670.4 481.6,656 476.8,648 480,632 478.4,624 481.6,616 488,611.2Z"/>
<path class="L" d="M481.6,616 488,611.2 497.6,614.4 505.6,619.2 507.2,624 500.8,632 494.4,636.8 488,644.8 484.8,644.8 480,632 478.4,624Z"/>
<path class="G" d="M524,550.4 532,547.2 541.6,548.8 548,553.6 557.6,552 570.4,553.6 580,553.6 588,556.8 591.2,566.4 588,572.8 589.6,582.4 583.2,592 573.6,595.2 564,598.4 560.8,608 556,611.2 554.4,600 552.8,585.6 551.2,579.2 538.4,576 528.8,568 530.4,556.8Z"/>
<path class="L" d="M589.6,571.2 596,566.4 602.4,572.8 605.6,582.4 604,592 605.6,601.6 599.2,606.4 594.4,595.2 589.6,585.6Z"/>
<path class="G" d="M607.2,584 620,582.4 628,584 639.2,592 637.6,598.4 628,601.6 615.2,603.2 607.2,598.4Z"/>
<path class="L" d="M537.6,609.6 552,606.4 561.6,612.8 571.2,606.4 584,603.2 600,606.4 616,606.4 632,606.4 641.6,609.6 644.8,619.2 656,625.6 667.2,628.8 680,635.2 696,635.2 712,641.6 724.8,648 731.2,654.4 731.2,667.2 724.8,680 712,689.6 710.4,704 712,720 704,744 699.2,760 688,768 673.6,769.6 664,780 632,780 625.6,772.8 624,763.2 616,753.6 611.2,740.8 609.6,731.2 608,721.6 596.8,715.2 592,704 580.8,699.2 568,689.6 564.8,678.4 552,683.2 544,686.4 539.2,680 529.6,676.8 520,665.6 520,657.6 529.6,646.4 537.6,632Z"/>
<path class="L ns" d="M541.6,611.2 556,611.2 560.8,608 564,598.4 573.6,595.2 583.2,592 589.6,585.6 596,601.6 600.8,608 612,604.8 628,603.2 639.2,596.8 642.4,604.8 644,616 650.4,620.8 660,624 669.6,627.2 679.2,633.6 692,636.8 708,638.4 720.8,643.2 732,656 733.6,660 522.4,660 528.8,649.6 535.2,640 541.6,624Z"/>
<path class="L ns" d="M614.4,760 700.8,760 688,763.2 672,769.6 667.2,779.2 664,792 660.8,801.6 654.4,814.4 648,824 643.2,828.8 638.4,820.8 627.2,811.2 620.8,808 620.8,801.6 630.4,792 635.2,782.4 624,792 612.8,788.8 612.8,776Z"/>
<path class="L" d="M544,686.4 552,683.2 564.8,678.4 568,689.6 580.8,699.2 592,704 596.8,715.2 608,721.6 609.6,731.2 611.2,740.8 593.6,739.2 587.2,744 580.8,758.4 568,760 560,758.4 555.2,744 548.8,731.2 545.6,715.2 545.6,702.4Z"/>
<path class="L" d="M587.2,744 593.6,739.2 611.2,740.8 616,753.6 624,763.2 625.6,772.8 616,774.4 600,766.4 587.2,756.8Z"/>
<path class="O" d="M560,760 576,760 592,764.8 612.8,776 612.8,788.8 624,792 628.8,796.8 620.8,804.8 619.2,816 620.8,827.2 620.8,835.2 625.6,840 630.4,849.6 627.2,856 617.6,860.8 606.4,864 604.8,872 595.2,875.2 598.4,884.8 598.4,896 595.2,904 601.6,913.6 601.6,920 595.2,929.6 595.2,940 576,940 572.8,920 569.6,904 563.2,888 560,872 558.4,856 556.8,840 553.6,824 552,808 553.6,792 556.8,772.8Z"/>
<path class="O ns" d="M560,758.4 568,760 580.8,758.4 587.2,756.8 600,766.4 616,774.4 616,780 555.2,780 556.8,769.6 561.6,764.8Z"/>
<path class="O" d="M620.8,811.2 627.2,811.2 638.4,820.8 643.2,828.8 638.4,835.2 628.8,833.6 620.8,830.4 619.2,820.8Z"/>
<path class="D" d="M544,760 560,760 556.8,772.8 553.6,792 552,808 553.6,824 556.8,840 558.4,856 560,872 563.2,888 569.6,904 572.8,920 576,940 569.6,940 563.2,928 558.4,916.8 555.2,907.2 553.6,896 552,884.8 548.8,872 547.2,856 545.6,840 545.6,824 544,808 544,792 544,776Z"/>
<path class="D ns" d="M542.4,731.2 545.6,729.6 552,744 558.4,758.4 561.6,764.8 556.8,769.6 553.6,780 544,780 544,760 542.4,744Z"/>
<path class="O ns" d="M559,860 605,860 607,870 600,875 595,880 598,890 598,900 594,905 600,912 603,918 600,922 598,930 596,936 598,943 595,946 585,943 576,935 572,925 572,910 568,895 560,880Z"/>
<path class="D ns" d="M549,860 559,860 560,880 568,895 572,910 572,925 576,935 585,943 595,946 605,952 615,958 620,960 610,962 600,960 590,956 580,950 570,942 562,930 558,920 555,908 554,895 552,880 550,870Z"/>
<path class="P" d="M530.4,504 536.8,496 536.8,505.6Z"/>
<path class="G" d="M559.2,502.4 565.6,503.2 564.8,504.8 559.2,504.3Z"/>
<path class="P" d="M597.6,532.8 601.6,532.8 601.6,536.8 597.6,536.8Z"/>
<path class="G" d="M1402.4,444.8 1408.8,441.6 1418.4,442.4 1420,448 1412,451.2 1404,449.6Z"/>
<path class="R" d="M1402.4,456 1412,451.2 1420,449.6 1423.2,457.6 1421.6,467.2 1420,475.2 1415.2,480 1408.8,478.4 1405.6,468.8 1402.4,462.4Z"/>
<path class="B" d="M1444,444.8 1448.8,441.6 1455.2,448 1456.8,460.8 1460,472 1466.4,480 1472.8,486.4 1466.4,492.8 1458.4,496 1460,508.8 1464.8,521.6 1469.6,531.2 1472.8,544 1471.2,550.4 1466.4,540.8 1463.2,531.2 1456.8,521.6 1450.4,518.4 1444,515.2 1440.8,504 1434.4,492.8 1429.6,483.2 1426.4,473.6 1428,464 1431.2,454.4 1437.6,449.6Z"/>
<path class="O" d="M1460,496 1466.4,492.8 1472.8,489.6 1479.2,496 1482.4,502.4 1492,508.8 1498.4,518.4 1498.4,528 1492,531.2 1485.6,534.4 1479.2,537.6 1476,544 1472.8,553.6 1476,566.4 1482.4,576 1485.6,580 1479.2,580 1472.8,569.6 1469.6,558.4 1469.6,550.4 1472.8,544 1469.6,531.2 1464.8,521.6 1460,508.8Z"/>
<path class="R" d="M1476,481.6 1482.4,478.4 1488.8,483.2 1492,489.6 1495.2,496 1504.8,508.8 1514.4,521.6 1514.4,528 1508,528 1501.6,518.4 1492,508.8 1482.4,502.4 1479.2,496 1472.8,489.6Z"/>
<path class="O" d="M1488.8,531.2 1498.4,528 1508,529.6 1517.6,536 1519.2,544 1511.2,548.8 1501.6,547.2 1493.6,540.8Z"/>
<path class="O" d="M1488.8,480 1495.2,473.6 1501.6,472 1508,475.2 1504.8,483.2 1501.6,492.8 1504.8,502.4 1514.4,512 1520.8,521.6 1525.6,531.2 1527.2,540.8 1524,550.4 1517.6,555.2 1511.2,560 1504.8,561.6 1508,553.6 1517.6,548.8 1519.2,544 1517.6,536 1514.4,528 1514.4,521.6 1504.8,508.8 1495.2,496 1492,489.6Z"/>
<path class="W" d="M1495.2,473.6 1501.6,472 1508,475.2 1517.6,481.6 1524,486.4 1520.8,496 1514.4,499.2 1508,496 1504.8,489.6 1504.8,483.2Z"/>
<path class="O" d="M1495.2,473.6 1501.6,472 1508,475.2 1504.8,483.2 1501.6,492.8 1504.8,502.4 1498.4,496 1492,489.6 1488.8,480Z"/>
<path class="D" d="M1519.2,494.4 1524,491.2 1530.4,492.8 1528.8,499.2 1524,502.4 1519.2,499.2Z"/>
<path class="G" d="M1578.4,464 1581.6,459.2 1584.8,464 1583.2,473.6 1580,478.4 1577.6,472Z"/>
<path class="O" d="M1586.4,505.6 1591.2,502.4 1594.4,508.8 1592.8,521.6 1591.2,528 1596,536 1591.2,537.6 1586.4,531.2 1584.8,518.4Z"/>
<path class="O" d="M1597.6,540.8 1610.4,540.8 1616.8,548.8 1612,560 1620,566.4 1624.8,576 1616.8,580 1604,576 1600.8,560 1597.6,550.4Z"/>
<path class="O" d="M1470,560 1476,560 1484,576 1492,590 1500,600 1504,608 1504,614 1498,612 1488,598 1480,584 1472,572Z"/>
<path class="B" d="M1454,584 1464,586 1472,596 1480,606 1490,612 1500,620 1508,628 1512,636 1512,654 1504,652 1496,644 1488,636 1480,624 1472,612 1464,600 1458,592Z"/>
<path class="B" d="M1512,657 1524,656.4 1540,660 1556,665 1569,669 1564,673.6 1548,672.4 1532,669.6 1518,666 1512,662.4Z"/>
<path class="B" d="M1568,671 1580,672 1600,672 1620,671 1628,671 1620,675 1600,676 1580,675Z"/>
<path class="B" d="M1604,682 1616,678 1628,672 1620,678 1608,684Z"/>
<path class="O" d="M1538,608 1548,600 1560,588 1568,580 1574,576 1584,586 1580,592 1576,594 1570,594 1560,602 1548,610 1540,612Z"/>
<path class="B" d="M1532,608 1540,612 1548,610 1560,602 1570,594 1576,594 1580,604 1584,612 1578,616 1572,626 1568,640 1564,644 1556,638 1544,638 1538,634 1534,624Z"/>
<path class="B" d="M1592,612 1600,610 1612,612 1620,608 1616,614 1604,616 1596,618 1594,626 1608,624 1600,630 1604,640 1608,650 1602,652 1596,642 1592,652 1588,646 1586,636 1588,624Z"/>
<path class="B" d="M1634,606 1638,604 1640,622 1636,620Z"/>
<path class="B" d="M1626,639 1632,638 1632,641 1626,641Z"/>
<path class="B" d="M1638,637 1650,636 1650,639 1638,639.6Z"/>
<path class="B" d="M1652,622 1660,620 1668,624 1670,632 1680,632 1684,628 1696,630 1708,636 1720,642 1732,648 1744,658 1740,660 1736,668 1744,676 1756,684 1748,684 1736,680 1728,672 1716,672 1708,676 1696,672 1692,664 1680,652 1670,644 1664,636 1656,632Z"/>
<path class="B" d="M1746,654 1756,652 1768,646 1772,648 1764,654 1754,656Z"/>
<path class="B" d="M1782,652 1786,654 1794,664 1792,666Z"/>
<path class="B" d="M1800,664 1804,665 1812,674 1810,676Z"/>
<path class="B" d="M1812,676 1816,677 1820,684 1818,685Z"/>
<path class="L" d="M1531.2,832.8 1538.4,816 1540.8,794.4 1538.4,780 1543.2,760.8 1557.6,753.6 1572,746.4 1588.8,739.2 1596,727.2 1605.6,720 1620,708 1634.4,710.4 1644,696 1658.4,691.2 1677.6,696 1672.8,708 1682.4,720 1692,729.6 1701.6,717.6 1706.4,703.2 1711.2,687.6 1716,708 1723.2,715.2 1725.6,732 1737.6,748.8 1740,760.8 1749.6,775.2 1749.6,794.4 1740,813.6 1730.4,828 1720.8,842.4 1706.4,852 1692,854.4 1677.6,859.2 1663.2,856.8 1653.6,847.2 1648.8,837.6 1644,828 1634.4,823.2 1620,818.4 1605.6,818.4 1591.2,823.2 1576.8,828 1560,830.4 1543.2,837.6Z"/>
<path class="L" d="M1660.8,876 1677.6,873.6 1677.6,880.8 1668,890.4 1660.8,890.4 1658.4,880.8Z"/>
<path class="L" d="M1831.2,837.6 1836,852 1848,854.4 1836,868.8 1821.6,876 1814.4,878.4 1816.8,868.8 1824,859.2 1828.8,847.2Z"/>
<path class="L" d="M1809.6,874.1 1800,882 1788,889.2 1773.6,896.4 1759.2,901.2 1749.6,905.3 1751.5,910.8 1766.4,910.1 1783.2,904.3 1797.6,896.4 1808.4,886.8 1812.5,878.4Z"/>
<path class="L" d="M1896,729.6 1908,721.2 1911.6,722.9 1899.6,732Z"/>
<path class="G" d="M1819.2,746.4 1821.6,745.2 1832.4,756 1830,757.2Z"/>
<path class="L" d="M1840.8,710.4 1843.2,709.2 1849.2,723.6 1846.8,724.8Z"/>
<path class="D" d="M1592,280 1600,288 1616,304 1624,314 1632,328 1628,328 1620,320 1608,308 1596,292Z"/>
<path class="L" d="M1564,366 1572,358 1584,352 1584,360 1580,372 1588,380 1580,384 1572,380 1568,374Z"/>
<path class="O" d="M1580,380 1588,380 1596,388 1600,398 1596,406 1588,406 1584,400 1582,390Z"/>
<path class="O" d="M1629.6,335.2 1636,338.4 1642.4,340.8 1648.8,342.4 1653.6,344 1655.2,346.4 1650.4,350.4 1648.8,353.6 1644,353.6 1639.2,355.2 1636,356 1632.8,352 1632,347.2 1631.2,340.8Z"/>
<path class="O" d="M1640.8,359.2 1644,358.4 1647.2,363.2 1650.4,368 1652.8,374.4 1654.4,380.8 1656,387.2 1658.4,392 1657.6,396.8 1658.5,395.1 1656.7,399.3 1650.7,399.9 1644.6,400.6 1640.4,401.2 1637.4,399.9 1632.5,398.7 1626.5,398.1 1620.4,399.3 1615.6,403 1613.2,403 1618,397.5 1623.5,395.1 1629.5,395.1 1634.3,396.9 1637.4,392.1 1641.6,386 1645.8,381.2 1644,384 1645.6,376 1644,368 1641.6,363.2Z"/>
<path class="O" d="M1609.6,408.4 1613.2,407.2 1617.4,409.6 1620.4,413.8 1621,418.7 1619.2,422.3 1616.8,421.1 1615,416.3 1612,412Z"/>
<path class="O" d="M1623.5,405.4 1626.5,404.2 1631.3,404.8 1631.9,407.2 1626.5,409.6 1624.1,408.4Z"/>
<path class="bl" d="M1351.2,311.2 L1364,303.2 L1376.8,301.6 L1392.8,303.2 L1396,293.6 L1408.8,296.8 L1421.6,301.6 L1436,304.8 L1452,309.6 L1468,308 L1476,304.8 L1488.8,306.4 L1490.4,319.2 L1504.8,320.8 L1514.4,324 L1504.8,328.8 L1492,333.6 L1484,340 L1476,349.6 L1460,356 L1444,354.4 L1428,351.2 L1412,348 L1402.4,340 L1389.6,336.8 L1376.8,333.6 L1370.4,324 L1360.8,316 L1351.2,311.2"/>
<path class="bl" d="M1488.8,306.4 L1492,288.8 L1500,284 L1508,285.6 L1520.8,296.8 L1532,304.8 L1543.2,309.6 L1556,312.8 L1572,316 L1580,316 L1584.8,327.2 L1585.6,338.4 L1581.6,347.2 L1583.2,352.8"/>
<path class="bl" d="M1332,396 L1341.6,413.6 L1352.8,428 L1360.8,440"/>
<path class="bl" d="M1420,444.8 L1428,436.8 L1437.6,434.4 L1447.2,443.2"/>
<path class="O" d="M1367.6,558.4 1374,560 1377.8,569.6 1378.8,577.6 1374,579.8 1370.2,576 1368.2,566.4Z"/>
<circle class="D" cx="1332.4" cy="592" r="4"/>
<circle class="O" cx="1164.8" cy="692" r="4"/>
<circle class="O" cx="1182.4" cy="677.6" r="4"/>
<circle class="O" cx="1239.2" cy="745.6" r="4"/>
<circle class="P" cx="962.6" cy="617" r="4"/>
<circle class="L" cx="1670.7" cy="571.1" r="4"/>
<circle class="G" cx="1801.5" cy="575.2" r="4"/>
<circle class="D" cx="1859.4" cy="572.1" r="4"/>
<circle class="B" cx="1886.4" cy="609.9" r="4"/>
<circle class="B" cx="1852" cy="621.4" r="4"/>
<circle class="B" cx="1916.6" cy="671.9" r="4"/>
<circle class="D" cx="1959" cy="705.2" r="4"/>
<circle class="G" cx="1961.4" cy="737.7" r="4"/>
<circle class="R" cx="1931.4" cy="751" r="4"/>
<circle class="L" cx="1669.6" cy="568.9" r="0.1"/>
<circle class="L" cx="1670" cy="570" r="0.1"/>
<path class="L" d="M1896,733 1912,721 1914,724 1898,736Z"/>
<path class="B" d="M1783,651 1788,650 1800,668 1796,670Z"/>
<path class="B" d="M1795,668 1800,667 1812,680 1808,682Z"/>
<path class="B" d="M1808,672 1812,671 1822,686 1818,688Z"/>
<path class="P" d="M1842,710 1845,709 1849,720 1846,721Z"/>
<path class="G" d="M1820,746 1823,745 1832,757 1829,758Z"/>
<circle class="O" cx="78.4" cy="496" r="3"/>
<circle class="O" cx="74.4" cy="487.2" r="1.6"/>
<circle class="G" cx="67.2" cy="483.2" r="1.6"/>
<circle class="G" cx="59.6" cy="479.6" r="1.6"/>
<circle class="D" cx="833" cy="438" r="1.8"/>
<circle class="D" cx="840" cy="441" r="1.8"/>
<circle class="D" cx="846" cy="437" r="1.8"/>
<circle class="G" cx="766" cy="376" r="1.4"/>
<circle class="G" cx="776" cy="379" r="1.4"/>
<circle class="G" cx="784" cy="381" r="1.4"/>
<circle class="G" cx="792" cy="383" r="1.4"/>
<circle class="G" cx="797" cy="384" r="1.4"/>
<circle class="G" cx="581" cy="510" r="2.6"/>
<circle class="G" cx="587" cy="510" r="2.6"/>
<circle class="G" cx="589" cy="517" r="2.6"/>
<circle class="G" cx="590" cy="524" r="2.6"/>
<circle class="G" cx="590" cy="531" r="2.6"/>
<circle class="G" cx="591" cy="538" r="2.6"/>
<circle class="G" cx="590" cy="546" r="2.6"/>
<circle class="G" cx="589" cy="553" r="2.6"/>
<circle class="G" cx="588" cy="560" r="2.6"/>
<path class="L ns" d="M618,778 642,776 642,802 620,804Z"/>
<path class="bl" d="M1037.6,294.4 L1052,292.8 L1068,291.2 L1080.8,292.8 L1092,297.6 L1108,300.8 L1119.2,308.8 L1117.6,318.4 L1109.6,326.4 L1100,329.6 L1088.8,329.6 L1080.8,326.4"/>
<path class="bl" d="M1036,312 L1045.6,315.2 L1058.4,315.2 L1066.4,315.2 L1071.2,326.4 L1072.8,332.8"/>
<path class="bl" d="M1058.4,315.2 L1061.6,320 L1068,329.6 L1071.2,327.2"/>
<path class="W" d="M1109.1,431.2 1111.7,444 1117.6,461.6 1123.5,477.6 1129.6,492 1136.8,507.2 1144.8,520 1154.4,532.8 1163.2,544.8 1166.4,546.4 1168.8,543.2 1164,532.8 1156,518.4 1146.4,504 1138.4,489.6 1132,475.2 1126.4,460.8 1120.8,444.8 1115.2,429.6Z"/>
<path class="P" d="M500,452 503,451 505,460 502,461Z"/>
<path class="P" d="M505,462 509,461 511,468 507,469Z"/>
<path class="B" d="M1114,415 1120,413 1129,411 1132,415 1126,418 1124,422 1126,426 1122,430 1116,434 1113,430 1114,423Z"/>
<path class="B" d="M1112,405 1116,403 1116,413 1113,416 1111,413Z"/>
<path class="O" d="M1100,421 1112,423 1114,433 1110,440 1104,434 1100,428Z"/>
<path class="W ns" d="M1098,430 1101,429 1106,440 1103,441Z"/>
<path class="pl" d="M948,496 L948.8,512 L949.6,532.8"/>
<path class="pl" d="M1008.8,473.6 L1008,502.4 L1007.2,528 L1002.4,539.2"/>
<path class="pl" d="M949.6,532.8 L964,536 L980,537.6 L1002.4,539.2"/>
<path class="pl" d="M856.8,521.6 L859.2,539.2"/>
<path class="pl" d="M893.6,519.2 L895.2,544 L898.4,553.6"/>
<path class="pl" d="M922.4,556 L924,580"/>
<path class="pl" d="M935.2,553.6 L936,580"/>
<path class="pl" d="M946.4,540.8 L945.6,580"/>
<path class="pl" d="M1002.4,539.2 L999.2,560 L996,580"/>
<path class="pl" d="M880.8,566.4 L884,580"/>
<path class="D" d="M1298,469 1303,467 1310,471 1318,475 1323,479 1316,485 1309,486 1302,481 1297,475Z"/>
</svg>
<div id="hdr-shadow"></div>
<div id="hdr-bar"></div>
<div id="hdr-strip"></div>
<div id="hdr-teal"></div>
<!-- social -->
<svg class="abs" style="left:1361px;top:28px" width="33" height="33" viewBox="0 0 33 33">
 <circle cx="16.5" cy="16.5" r="15.5" fill="#2a9d86"/>
 <path d="M6,9 C9,6 13,5 15,6 L14,10 L10,12 L11,16 L8,18 L5,15 Z" fill="#fff"/>
 <path d="M18,13 L24,11 L27,14 L26,19 L22,22 L19,26 L16,24 L17,19 Z" fill="#fff"/>
</svg>
<svg class="abs" style="left:1606px;top:32px" width="25" height="25" viewBox="0 0 25 25">
 <rect x="2" y="2" width="21" height="21" rx="6" fill="none" stroke="#111" stroke-width="2.6"/>
 <circle cx="12.5" cy="12.5" r="4.6" fill="none" stroke="#111" stroke-width="2.4"/>
 <circle cx="18.3" cy="6.8" r="1.4" fill="#111"/>
</svg>
<svg class="abs" style="left:1800px;top:32px" width="26" height="26" viewBox="0 0 26 26">
 <circle cx="13" cy="13" r="11.5" fill="#1a1a1a"/>
 <path d="M6.5,16.5 C9,17.5 12,17 14,15 C16.5,13 17,10.5 17,9.5 L18.5,8.5 L17.2,8.6 L18,7.4 L16.4,8 C15.2,6.8 13,7.3 12.7,9.3 L12.7,10 C10.5,9.9 8.8,8.8 7.7,7.6 C7,9 7.7,10.5 8.7,11.2 L7.6,11 C7.7,12.4 8.6,13.2 9.8,13.5 L8.8,13.6 C9.2,14.6 10.2,15.2 11.2,15.2 C9.8,16.2 8.2,16.6 6.5,16.5 Z" fill="#fff"/>
</svg>

<div class="lgb" style="left:609px;background:#f3edb1"></div>
<div class="lgb" style="left:750px;background:#fec357"></div>
<div class="lgb" style="left:890px;background:#fb982a"></div>
<div class="lgb" style="left:1031px;background:#dd5c0f"></div>
<div class="lgb" style="left:1172px;background:#993408"></div>
<div class="lgb" style="left:1312px;background:#65220b"></div>
<svg id="txt" style="position:absolute;left:0;top:0" width="2000" height="1125" viewBox="0 0 2000 1125" font-family="Liberation Sans, sans-serif">
<text x="40" y="86" font-size="49" font-weight="bold" font-style="normal" fill="#fff" textLength="306" lengthAdjust="spacingAndGlyphs">Tobacco use</text>
<text x="1404.5" y="52.3" font-size="23" font-weight="normal" font-style="normal" fill="#1c1c1c" textLength="178" lengthAdjust="spacingAndGlyphs">Landgeist.com</text>
<text x="1639" y="51" font-size="23" font-weight="normal" font-style="normal" fill="#1c1c1c" textLength="146" lengthAdjust="spacingAndGlyphs">@Land_geist</text>
<text x="1832.4" y="51" font-size="23" font-weight="normal" font-style="normal" fill="#1c1c1c" textLength="136.5" lengthAdjust="spacingAndGlyphs">@Landgeist</text>
<text x="754" y="963" font-size="25" font-weight="bold" font-style="normal" fill="#1a1a1a" textLength="491" lengthAdjust="spacingAndGlyphs">% of adults using any tobacco products</text>
<text x="601.2" y="1020.5" font-size="24.5" font-weight="normal" font-style="normal" fill="#222" textLength="93.5" lengthAdjust="spacingAndGlyphs">0.0 - 9.9</text>
<text x="730.9" y="1020.5" font-size="24.5" font-weight="normal" font-style="normal" fill="#222" textLength="119.0" lengthAdjust="spacingAndGlyphs">10.0 - 19.9</text>
<text x="869" y="1020.5" font-size="24.5" font-weight="normal" font-style="normal" fill="#222" textLength="121" lengthAdjust="spacingAndGlyphs">20.0 - 24.9</text>
<text x="1010" y="1020.5" font-size="24.5" font-weight="normal" font-style="normal" fill="#222" textLength="120.4" lengthAdjust="spacingAndGlyphs">25.0 - 29.9</text>
<text x="1149.5" y="1020.5" font-size="24.5" font-weight="normal" font-style="normal" fill="#222" textLength="121.1" lengthAdjust="spacingAndGlyphs">30.0 - 34.9</text>
<text x="1290.6" y="1020.5" font-size="24.5" font-weight="normal" font-style="normal" fill="#222" textLength="121.4" lengthAdjust="spacingAndGlyphs">35.0 - 50.0</text>
<text x="31.5" y="710" font-size="22" font-weight="bold" font-style="normal" fill="#111" textLength="84" lengthAdjust="spacingAndGlyphs">Highest</text>
<text x="302.5" y="710" font-size="22" font-weight="bold" font-style="normal" fill="#111" textLength="77.5" lengthAdjust="spacingAndGlyphs">Lowest</text>
<text x="33" y="749.4" font-size="19.3" font-weight="normal" font-style="normal" fill="#4a4a4a">1.</text>
<text x="87" y="749.4" font-size="19.3" font-weight="normal" font-style="normal" fill="#454545" textLength="118.8" lengthAdjust="spacingAndGlyphs">Nauru <tspan font-size="17.5">(48.5%)</tspan></text>
<text x="33" y="777.9" font-size="19.3" font-weight="normal" font-style="normal" fill="#4a4a4a">2.</text>
<text x="87" y="777.9" font-size="19.3" font-weight="normal" font-style="normal" fill="#454545" textLength="143.6" lengthAdjust="spacingAndGlyphs">Myanmar <tspan font-size="17.5">(44.1%)</tspan></text>
<text x="33" y="806.3" font-size="19.3" font-weight="normal" font-style="normal" fill="#4a4a4a">3.</text>
<text x="87" y="806.3" font-size="19.3" font-weight="normal" font-style="normal" fill="#454545" textLength="121" lengthAdjust="spacingAndGlyphs">Kiribati <tspan font-size="17.5">(40.6%)</tspan></text>
<text x="33" y="834.8" font-size="19.3" font-weight="normal" font-style="normal" fill="#4a4a4a">4.</text>
<text x="87" y="834.8" font-size="19.3" font-weight="normal" font-style="normal" fill="#454545" textLength="116.5" lengthAdjust="spacingAndGlyphs">Serbia <tspan font-size="17.5">(39.8%)</tspan></text>
<text x="33" y="863.2" font-size="19.3" font-weight="normal" font-style="normal" fill="#4a4a4a">5.</text>
<text x="87" y="863.2" font-size="19.3" font-weight="normal" font-style="normal" fill="#454545" textLength="195.6" lengthAdjust="spacingAndGlyphs">Papua New Guinea <tspan font-size="17.5">(39.3%)</tspan></text>
<text x="33" y="891.6" font-size="19.3" font-weight="normal" font-style="normal" fill="#4a4a4a">6.</text>
<text x="87" y="891.6" font-size="19.3" font-weight="normal" font-style="normal" fill="#454545" textLength="166.9" lengthAdjust="spacingAndGlyphs">Timor-Leste <tspan font-size="17.5">(39.2%)</tspan></text>
<text x="33" y="920.1" font-size="19.3" font-weight="normal" font-style="normal" fill="#4a4a4a">7.</text>
<text x="87" y="920.1" font-size="19.3" font-weight="normal" font-style="normal" fill="#454545" textLength="129" lengthAdjust="spacingAndGlyphs">Bulgaria <tspan font-size="17.5">(39.0%)</tspan></text>
<text x="33" y="948.5" font-size="19.3" font-weight="normal" font-style="normal" fill="#4a4a4a">8.</text>
<text x="87" y="948.5" font-size="19.3" font-weight="normal" font-style="normal" fill="#454545" textLength="137.4" lengthAdjust="spacingAndGlyphs">Lebanon <tspan font-size="17.5">(38.2%)</tspan></text>
<text x="33" y="977.0" font-size="19.3" font-weight="normal" font-style="normal" fill="#4a4a4a">9.</text>
<text x="87" y="977.0" font-size="19.3" font-weight="normal" font-style="normal" fill="#454545" textLength="144.2" lengthAdjust="spacingAndGlyphs">Indonesia <tspan font-size="17.5">(37.6%)</tspan></text>
<text x="24.2" y="1005.5" font-size="19.3" font-weight="normal" font-style="normal" fill="#4a4a4a">10.</text>
<text x="87" y="1005.5" font-size="19.3" font-weight="normal" font-style="normal" fill="#454545" textLength="111" lengthAdjust="spacingAndGlyphs">Latvia <tspan font-size="17.5">(37.0%)</tspan></text>
<text x="304.8" y="749.4" font-size="19.3" font-weight="normal" font-style="normal" fill="#4a4a4a">1.</text>
<text x="358.6" y="749.4" font-size="19.3" font-weight="normal" font-style="normal" fill="#454545" textLength="109.2" lengthAdjust="spacingAndGlyphs">Ghana <tspan font-size="17.5">(3.5%)</tspan></text>
<text x="304.8" y="777.9" font-size="19.3" font-weight="normal" font-style="normal" fill="#4a4a4a">2.</text>
<text x="358.6" y="777.9" font-size="19.3" font-weight="normal" font-style="normal" fill="#454545" textLength="114.4" lengthAdjust="spacingAndGlyphs">Nigeria <tspan font-size="17.5">(3.7%)</tspan></text>
<text x="304.8" y="806.3" font-size="19.3" font-weight="normal" font-style="normal" fill="#4a4a4a">3.</text>
<text x="358.6" y="806.3" font-size="19.3" font-weight="normal" font-style="normal" fill="#454545" textLength="118.9" lengthAdjust="spacingAndGlyphs">Panama <tspan font-size="17.5">(5.0%)</tspan></text>
<text x="304.8" y="834.8" font-size="19.3" font-weight="normal" font-style="normal" fill="#4a4a4a">4.</text>
<text x="358.6" y="834.8" font-size="19.3" font-weight="normal" font-style="normal" fill="#454545" textLength="121.2" lengthAdjust="spacingAndGlyphs">Ethiopia <tspan font-size="17.5">(5.1%)</tspan></text>
<text x="304.8" y="863.2" font-size="19.3" font-weight="normal" font-style="normal" fill="#4a4a4a">5.</text>
<text x="358.6" y="863.2" font-size="19.3" font-weight="normal" font-style="normal" fill="#454545" textLength="165.4" lengthAdjust="spacingAndGlyphs">Turkmenistan <tspan font-size="17.5">(5.5%)</tspan></text>
<text x="304.8" y="891.6" font-size="19.3" font-weight="normal" font-style="normal" fill="#4a4a4a">6.</text>
<text x="358.6" y="891.6" font-size="19.3" font-weight="normal" font-style="normal" fill="#454545" textLength="182.1" lengthAdjust="spacingAndGlyphs">S. Tomé &amp; Príncipe <tspan font-size="17.5">(5.7%)</tspan></text>
<text x="304.8" y="920.1" font-size="19.3" font-weight="normal" font-style="normal" fill="#4a4a4a">7.</text>
<text x="358.6" y="920.1" font-size="19.3" font-weight="normal" font-style="normal" fill="#454545" textLength="95.9" lengthAdjust="spacingAndGlyphs">Togo <tspan font-size="17.5">(6.8%)</tspan></text>
<text x="304.8" y="948.5" font-size="19.3" font-weight="normal" font-style="normal" fill="#4a4a4a">8.</text>
<text x="358.6" y="948.5" font-size="19.3" font-weight="normal" font-style="normal" fill="#454545" textLength="102.0" lengthAdjust="spacingAndGlyphs">Benin <tspan font-size="17.5">(6.9%)</tspan></text>
<text x="305.8" y="977.0" font-size="19.3" font-weight="normal" font-style="normal" fill="#4a4a4a">-</text>
<text x="358.6" y="977.0" font-size="19.3" font-weight="normal" font-style="normal" fill="#454545" textLength="117.8" lengthAdjust="spacingAndGlyphs">Senegal <tspan font-size="17.5">(6.9%)</tspan></text>
<text x="294.4" y="1005.5" font-size="19.3" font-weight="normal" font-style="normal" fill="#4a4a4a">10.</text>
<text x="358.6" y="1005.5" font-size="19.3" font-weight="normal" font-style="normal" fill="#454545" textLength="146.4" lengthAdjust="spacingAndGlyphs">Cameroon <tspan font-size="17.5">(7.3%)</tspan></text>
<text x="31.5" y="1090" font-size="14.7" font-weight="normal" font-style="italic" fill="#333" textLength="219.5" lengthAdjust="spacingAndGlyphs">Source: The World Bank, 2020</text>
</svg>
<svg class="abs" style="left:57px;top:733.3px" width="25.5" height="16.2" viewBox="0 0 25 16" preserveAspectRatio="none"><rect width="25" height="16" fill="#2f3a8a"/><rect y="7" width="25" height="1.6" fill="#f5c400"/><circle cx="6" cy="12" r="1.8" fill="#fff"/></svg>
<svg class="abs" style="left:57px;top:761.8px" width="25.5" height="16.2" viewBox="0 0 25 16" preserveAspectRatio="none"><rect width="25" height="5.4" fill="#f8cf2a"/><rect y="5.3" width="25" height="5.4" fill="#34b233"/><rect y="10.6" width="25" height="5.4" fill="#ea2839"/><polygon points="12.5,2.5 14,7 18.5,7 15,9.8 16.2,14 12.5,11.4 8.8,14 10,9.8 6.5,7 11,7" fill="#fff"/></svg>
<svg class="abs" style="left:57px;top:790.2px" width="25.5" height="16.2" viewBox="0 0 25 16" preserveAspectRatio="none"><rect width="25" height="9" fill="#dd3a3a"/><circle cx="12.5" cy="8.5" r="3" fill="#f8cf2a"/><rect y="8.5" width="25" height="7.5" fill="#003f87"/><rect y="10" width="25" height="1.3" fill="#fff"/><rect y="13" width="25" height="1.3" fill="#fff"/></svg>
<svg class="abs" style="left:57px;top:818.6px" width="25.5" height="16.2" viewBox="0 0 25 16" preserveAspectRatio="none"><rect width="25" height="5.4" fill="#c6363c"/><rect y="5.3" width="25" height="5.4" fill="#0c4076"/><rect y="10.6" width="25" height="5.4" fill="#fff"/><rect x="4" y="2" width="4" height="9" fill="#c6363c" stroke="#fff" stroke-width="0.8"/></svg>
<svg class="abs" style="left:57px;top:847.1px" width="25.5" height="16.2" viewBox="0 0 25 16" preserveAspectRatio="none"><polygon points="0,0 25,0 25,16" fill="#dd3a3a"/><polygon points="0,0 0,16 25,16" fill="#1a1a1a"/><circle cx="5" cy="9" r="1" fill="#fff"/><circle cx="8" cy="12" r="1" fill="#fff"/><path d="M15,3 L20,5 L18,8 Z" fill="#f8cf2a"/></svg>
<svg class="abs" style="left:57px;top:875.5px" width="25.5" height="16.2" viewBox="0 0 25 16" preserveAspectRatio="none"><rect width="25" height="16" fill="#dc241f"/><polygon points="0,0 12,8 0,16" fill="#ffc726"/><polygon points="0,0 8,8 0,16" fill="#000"/><circle cx="3" cy="8" r="1.5" fill="#fff"/></svg>
<svg class="abs" style="left:57px;top:904.0px" width="25.5" height="16.2" viewBox="0 0 25 16" preserveAspectRatio="none"><rect width="25" height="5.4" fill="#fff"/><rect y="5.3" width="25" height="5.4" fill="#52a83a"/><rect y="10.6" width="25" height="5.4" fill="#d62612"/></svg>
<svg class="abs" style="left:57px;top:932.4px" width="25.5" height="16.2" viewBox="0 0 25 16" preserveAspectRatio="none"><rect width="25" height="16" fill="#fff"/><rect width="25" height="4" fill="#e43b4a"/><rect y="12" width="25" height="4" fill="#e43b4a"/><polygon points="12.5,5 16,10.5 9,10.5" fill="#00a651"/></svg>
<svg class="abs" style="left:57px;top:960.9px" width="25.5" height="16.2" viewBox="0 0 25 16" preserveAspectRatio="none"><rect width="25" height="8" fill="#dd3a3a"/><rect y="8" width="25" height="8" fill="#f7f7f7"/></svg>
<svg class="abs" style="left:57px;top:989.3px" width="25.5" height="16.2" viewBox="0 0 25 16" preserveAspectRatio="none"><rect width="25" height="16" fill="#c73640"/><rect y="6.4" width="25" height="3.2" fill="#fff"/></svg>
<svg class="abs" style="left:328px;top:733.3px" width="25.5" height="16.2" viewBox="0 0 25 16" preserveAspectRatio="none"><rect width="25" height="5.4" fill="#dd3a3a"/><rect y="5.3" width="25" height="5.4" fill="#f8cf2a"/><rect y="10.6" width="25" height="5.4" fill="#4f9e2c"/><circle cx="12.5" cy="8" r="1.6" fill="#000"/></svg>
<svg class="abs" style="left:328px;top:761.8px" width="25.5" height="16.2" viewBox="0 0 25 16" preserveAspectRatio="none"><rect width="25" height="16" fill="#fff"/><rect width="8.3" height="16" fill="#5aaa2e"/><rect x="16.7" width="8.3" height="16" fill="#5aaa2e"/></svg>
<svg class="abs" style="left:328px;top:790.2px" width="25.5" height="16.2" viewBox="0 0 25 16" preserveAspectRatio="none"><rect width="25" height="16" fill="#fff"/><rect x="12.5" width="12.5" height="8" fill="#dd3a3a"/><rect y="8" width="12.5" height="8" fill="#072357"/><circle cx="6" cy="4" r="1.5" fill="#072357"/><circle cx="18.5" cy="12" r="1.5" fill="#dd3a3a"/></svg>
<svg class="abs" style="left:328px;top:818.6px" width="25.5" height="16.2" viewBox="0 0 25 16" preserveAspectRatio="none"><rect width="25" height="5.4" fill="#4f9e2c"/><rect y="5.3" width="25" height="5.4" fill="#f8cf2a"/><rect y="10.6" width="25" height="5.4" fill="#dd3a3a"/><circle cx="12.5" cy="8" r="3.3" fill="#0f47af"/></svg>
<svg class="abs" style="left:328px;top:847.1px" width="25.5" height="16.2" viewBox="0 0 25 16" preserveAspectRatio="none"><rect width="25" height="16" fill="#5aa032"/><rect x="3" width="5" height="16" fill="#d22630"/><circle cx="12" cy="4" r="1.5" fill="#fff"/></svg>
<svg class="abs" style="left:328px;top:875.5px" width="25.5" height="16.2" viewBox="0 0 25 16" preserveAspectRatio="none"><rect width="25" height="16" fill="#5cb030"/><rect y="4.5" width="25" height="7" fill="#f8cf2a"/><polygon points="0,0 7,8 0,16" fill="#dd3a3a"/><circle cx="13" cy="8" r="1.2" fill="#000"/><circle cx="18.5" cy="8" r="1.2" fill="#000"/></svg>
<svg class="abs" style="left:328px;top:904.0px" width="25.5" height="16.2" viewBox="0 0 25 16" preserveAspectRatio="none"><rect width="25" height="16" fill="#4f9e2c"/><rect y="3.2" width="25" height="3.2" fill="#f8cf2a"/><rect y="9.6" width="25" height="3.2" fill="#f8cf2a"/><rect width="9.6" height="9.6" fill="#dd3a3a"/><circle cx="4.8" cy="4.8" r="1.8" fill="#fff"/></svg>
<svg class="abs" style="left:328px;top:932.4px" width="25.5" height="16.2" viewBox="0 0 25 16" preserveAspectRatio="none"><rect width="25" height="8" fill="#f8cf2a"/><rect y="8" width="25" height="8" fill="#e43b4a"/><rect width="10" height="16" fill="#5aaa2e"/></svg>
<svg class="abs" style="left:328px;top:960.9px" width="25.5" height="16.2" viewBox="0 0 25 16" preserveAspectRatio="none"><rect width="8.4" height="16" fill="#55a82f"/><rect x="8.3" width="8.4" height="16" fill="#f3d33a"/><rect x="16.6" width="8.4" height="16" fill="#e43b4a"/><circle cx="12.5" cy="8" r="1.5" fill="#55a82f"/></svg>
<svg class="abs" style="left:328px;top:989.3px" width="25.5" height="16.2" viewBox="0 0 25 16" preserveAspectRatio="none"><rect width="8.4" height="16" fill="#55a82f"/><rect x="8.3" width="8.4" height="16" fill="#dd3a3a"/><rect x="16.6" width="8.4" height="16" fill="#f8cf2a"/><circle cx="12.5" cy="8" r="1.4" fill="#f8cf2a"/></svg>
</body></html>
